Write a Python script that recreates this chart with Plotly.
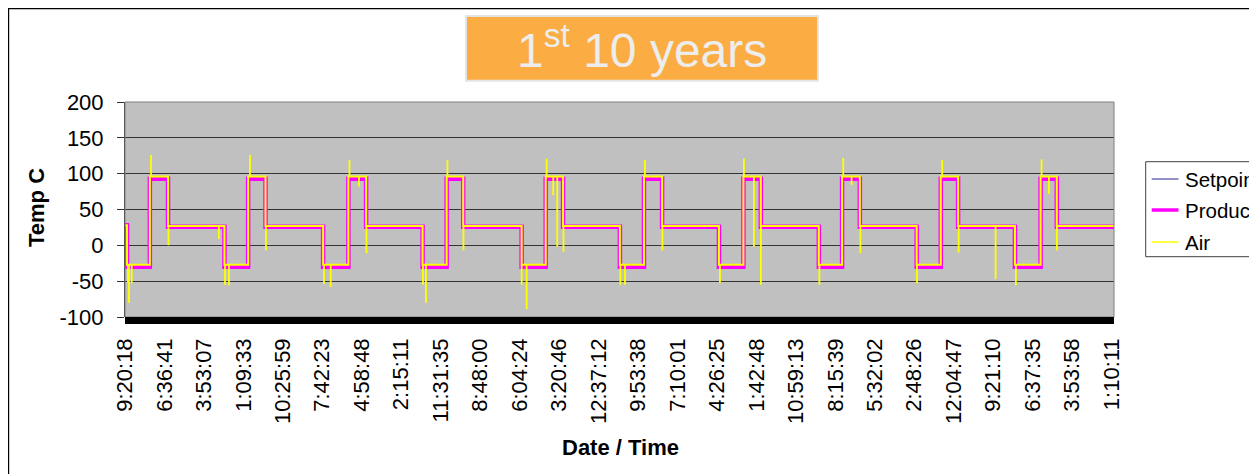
import plotly.graph_objects as go

# ---------------- data ----------------
tick_labels = ["9:20:18", "6:36:41", "3:53:07", "1:09:33", "10:25:59", "7:42:23",
               "4:58:48", "2:15:11", "11:31:35", "8:48:00", "6:04:24", "3:20:46",
               "12:37:12", "9:53:38", "7:10:01", "4:26:25", "1:42:48", "10:59:13",
               "8:15:39", "5:32:02", "2:48:26", "12:04:47", "9:21:10", "6:37:35",
               "3:53:58", "1:10:11"]
tick_pos = list(range(len(tick_labels)))   # elapsed time in label intervals

y_tick_vals = [-100, -50, 0, 50, 100, 150, 200]
y_tick_text = ["-100", "-50", "0", "50", "100", "150", "200"]

t_end = 25.06
# per-cycle transition times (label-interval units)
cold_start = [0.05, 2.52, 5.02, 7.54, 10.05, 12.54, 15.05, 17.58, 20.06, 22.55]
hot_start = [0.63, 3.12, 5.66, 8.15, 10.66, 13.15, 15.67, 18.17, 20.67, 23.20]
hot_end = [1.09, 3.56, 6.11, 8.57, 11.10, 13.61, 16.11, 18.62, 21.11, 23.61]

start_level = 28
setpoint_cold = [-30, -30, -30, -30, -30, -30, -30, -30, -30, -30]
setpoint_hot = [93, 93, 93, 93, 93, 93, 93, 93, 93, 93]
setpoint_amb = [26, 26, 26, 26, 26, 26, 26, 26, 26, 26]

product_cold = [-30, -30, -30, -30, -30, -30, -30, -30, -30, -30]
product_hot = [93, 93, 93, 93, 93, 93, 93, 93, 93, 93]
product_amb = [26, 26, 26, 26, 26, 26, 26, 26, 26, 26]

air_cold = [-27, -27, -27, -27, -27, -27, -27, -27, -27, -27]
air_hot = [96, 96, 96, 96, 96, 96, 96, 96, 96, 96]
air_amb = [27, 27, 27, 27, 27, 27, 27, 27, 27, 27]

# air spikes: time and extreme value
spike_x = [0.659, 3.167, 5.688, 8.171, 10.684, 13.174, 15.683, 18.199, 20.707, 23.225,
           0.076, 0.101, 0.170, 2.534, 2.635, 5.042, 5.212, 7.550, 7.626, 10.051,
           10.177, 12.552, 12.668, 15.075, 17.595, 20.066, 22.574,
           1.102, 3.572, 6.119, 8.576, 11.110, 13.618, 16.113, 18.635, 21.124, 23.613,
           5.929, 10.851, 10.953, 15.936, 18.411, 23.410, 22.060, 2.380]
spike_y = [126, 126, 119, 119, 121, 119, 121, 122, 119, 120,
           -53, -80, -53, -55, -56, -54, -58, -55, -80, -55,
           -89, -55, -55, -53, -55, -53, -56,
           0, -7, -11, -7, -9, -7, -55, -11, -10, -7,
           82, 70, -2, -2, 84, 72, -47, 9]


# ---------------- build paths ----------------
def step_path(cold, hot, amb, first):
    xs, ys = [0], [first]
    prev = first
    for k in range(len(cold_start)):
        xs += [cold_start[k], cold_start[k], hot_start[k], hot_start[k], hot_end[k], hot_end[k]]
        ys += [prev, cold[k], cold[k], hot[k], hot[k], amb[k]]
        prev = amb[k]
    xs.append(t_end)
    ys.append(prev)
    return xs, ys


def air_level_at(x):
    lvl = start_level
    for k in range(len(cold_start)):
        if x >= cold_start[k]:
            lvl = air_cold[k]
        if x >= hot_start[k]:
            lvl = air_hot[k]
        if x >= hot_end[k]:
            lvl = air_amb[k]
    return lvl


sx, sy = step_path(setpoint_cold, setpoint_hot, setpoint_amb, start_level)
px_, py_ = step_path(product_cold, product_hot, product_amb, start_level)
ax_, ay_ = step_path(air_cold, air_hot, air_amb, start_level)
spx, spy = [], []
for x, v in zip(spike_x, spike_y):
    spx += [x, x, None]
    spy += [air_level_at(x), v, None]

# ---------------- figure ----------------
# page offset of the figure inside the browser window (body margin)
OFF = 8
FIG_W, FIG_H = 1257 - OFF, 474 - OFF
L, R, T, B = 125, 1114, 102, 317          # plot area in window pixels
W, H = R - L, B - T


def xp(p):
    return (p - L) / W


def yp(p):
    return (B - p) / H


SET_C = "#6E6EB4"
PROD_C = "#FF00FF"
AIR_C = "#FFFF00"
FONT = "Liberation Sans, Arial, sans-serif"

fig = go.Figure()
fig.add_trace(go.Scatter(x=sx, y=sy, mode="lines", name="Setpoint",
                         line=dict(color=SET_C, width=1)))
fig.add_trace(go.Scatter(x=px_, y=py_, mode="lines", name="Product",
                         line=dict(color=PROD_C, width=4.5)))
fig.add_trace(go.Scatter(x=ax_, y=ay_, mode="lines", name="Air",
                         line=dict(color=AIR_C, width=2)))
fig.add_trace(go.Scatter(x=spx, y=spy, mode="lines", name="Air spikes",
                         line=dict(color=AIR_C, width=1.8)))

shapes = [
    # outer chart border
    dict(type="rect", xref="paper", yref="paper", x0=xp(8.6), x1=xp(1320), y0=yp(540), y1=yp(8.6),
         line=dict(color="black", width=1.2), fillcolor="rgba(0,0,0,0)", layer="above"),
    # plot-area border
    dict(type="rect", xref="paper", yref="paper", x0=0, x1=1, y0=0, y1=1,
         line=dict(color="#808080", width=1), fillcolor="rgba(0,0,0,0)", layer="above"),
    # black floor bar
    dict(type="rect", xref="paper", yref="paper", x0=xp(125), x1=1, y0=yp(324), y1=0,
         line=dict(width=0), fillcolor="black", layer="above"),
    # title box
    dict(type="rect", xref="paper", yref="paper", x0=xp(466), x1=xp(818), y0=yp(80.7), y1=yp(16),
         line=dict(color="#E4E4E4", width=2), fillcolor="#FBAC43", layer="above"),
    # legend box
    dict(type="rect", xref="paper", yref="paper", x0=xp(1145.7), x1=xp(1320), y0=yp(256.7), y1=yp(161.7),
         line=dict(color="#404040", width=1), fillcolor="white", layer="above"),
]
leg_items = [("Setpoint", SET_C, 1.5, 179), ("Product", PROD_C, 3.5, 210), ("Air", AIR_C, 1.5, 242)]
annotations = []
for name, col, w, yc in leg_items:
    shapes.append(dict(type="line", xref="paper", yref="paper", x0=xp(1151.7), x1=xp(1178.5),
                       y0=yp(yc), y1=yp(yc), line=dict(color=col, width=w), layer="above"))
    annotations.append(dict(xref="paper", yref="paper", x=xp(1182.5), y=yp(yc), xanchor="left",
                            yanchor="middle", text=name, showarrow=False,
                            font=dict(family=FONT, size=20.5, color="black")))

annotations += [
    dict(xref="paper", yref="paper", x=xp(642), y=yp(47), xanchor="center", yanchor="middle",
         text="1<sup>st</sup> 10 years", showarrow=False,
         font=dict(family="Liberation Sans Narrow, Arial Narrow, Liberation Sans, Arial", size=48,
                   color="#EDEDED")),
    dict(xref="paper", yref="paper", x=xp(36), y=yp(208), xanchor="center", yanchor="middle",
         text="<b>Temp C</b>", textangle=-90, showarrow=False,
         font=dict(family=FONT, size=22, color="black")),
    dict(xref="paper", yref="paper", x=xp(620), y=yp(448), xanchor="center", yanchor="middle",
         text="<b>Date / Time</b>", showarrow=False,
         font=dict(family=FONT, size=22, color="black")),
]

fig.update_layout(
    width=FIG_W, height=FIG_H,
    margin=dict(l=L - OFF, r=FIG_W - (R - OFF), t=T - OFF, b=FIG_H - (B - OFF), pad=0,
                autoexpand=False),
    paper_bgcolor="white", plot_bgcolor="#C0C0C0",
    showlegend=False,
    font=dict(family=FONT, size=22, color="black"),
    shapes=shapes, annotations=annotations,
)
fig.update_xaxes(range=[0, t_end], tickmode="array", tickvals=tick_pos, ticktext=tick_labels,
                 tickangle=-90, showgrid=False, zeroline=False, showline=False, ticks="",
                 ticklabelstandoff=16, tickfont=dict(family=FONT, size=22, color="black"))
fig.update_yaxes(range=[-100, 200], tickmode="array", tickvals=y_tick_vals, ticktext=y_tick_text,
                 showgrid=True, gridcolor="#333333", gridwidth=1, zeroline=False,
                 showline=True, linecolor="#333333", linewidth=1,
                 ticks="outside", ticklen=7, tickcolor="#333333",
                 ticklabelstandoff=9, tickfont=dict(family=FONT, size=22, color="black"))

fig.write_html("out.html", config={"displayModeBar": False})
